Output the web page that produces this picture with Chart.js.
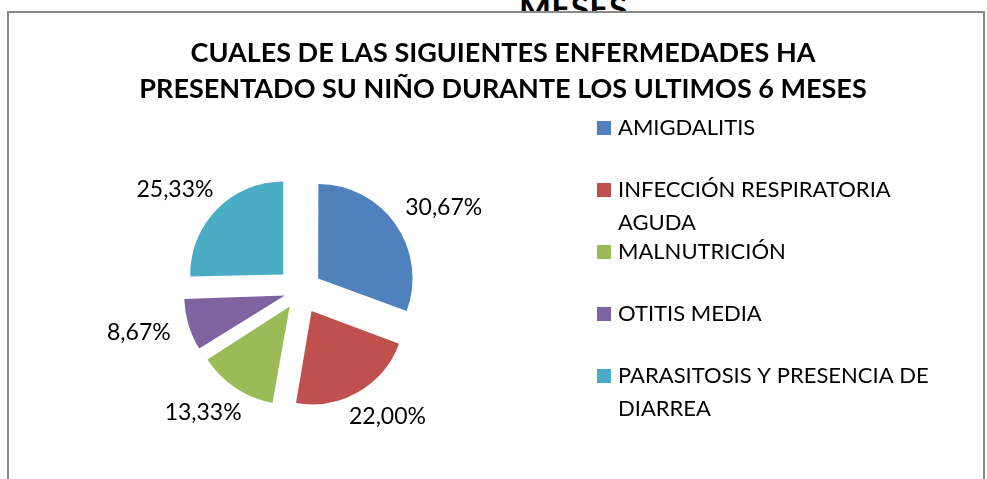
<!DOCTYPE html>
<html>
<head>
<meta charset="utf-8">
<title>Enfermedades en los ultimos 6 meses</title>
<script src="https://cdn.jsdelivr.net/npm/chart.js@4.4.1/dist/chart.umd.min.js"></script>
<style>
  body { margin: 0; width: 987px; height: 479px; overflow: hidden; background: #fff; font-family: Lato, sans-serif; }
  #cut-title { position: absolute; left: 519px; top: -9px; font: bold 34px/1 Lato, sans-serif; color: #000; z-index: 0; }
  #frame { position: absolute; left: 7px; top: 11px; right: 2px; bottom: -10px; border: 2px solid #8a8a8a; background: #fff; z-index: 1; }
  #chart { position: absolute; left: 0; top: 0; z-index: 2; }
</style>
</head>
<body>
<div id="cut-title">MESES</div>
<div id="frame"></div>
<canvas id="chart" width="987" height="479"></canvas>
<script>
// Chart data
const titleLines = ['CUALES DE LAS SIGUIENTES ENFERMEDADES HA', 'PRESENTADO SU NIÑO DURANTE LOS ULTIMOS 6 MESES'];
const categories = ['AMIGDALITIS', 'INFECCIÓN RESPIRATORIA AGUDA', 'MALNUTRICIÓN', 'OTITIS MEDIA', 'PARASITOSIS Y PRESENCIA DE DIARREA'];
const percentages = [30.67, 22.00, 13.33, 8.67, 25.33];
const sliceColors = ['#4F81BD', '#C0504D', '#9BBB59', '#8064A2', '#4BACC6'];

// How far every slice is pulled out (px), same for all like Excel's explode
const explode = 23.5;

// Chart.js moves an arc by offset/4 * (1 + fix), fix depending on the arc size,
// so work back the offset that gives the same shift for every slice
const total = percentages.reduce((sum, v) => sum + v, 0);
const sliceOffsets = percentages.map(v => {
  const circ = v / total * 2 * Math.PI;
  const fix = 1 - Math.sin(Math.min(Math.PI, circ));
  return explode * 4 / (1 + fix);
});

// Format like the original: 30,67%
function formatPercent(v) {
  return v.toFixed(2).replace('.', ',') + '%';
}

// Split a label into lines that fit maxWidth
function wrapText(ctx, text, maxWidth) {
  const words = text.split(' ');
  const lines = [];
  let line = '';
  words.forEach(word => {
    const test = line ? line + ' ' + word : word;
    if (line && ctx.measureText(test).width > maxWidth) {
      lines.push(line);
      line = word;
    } else {
      line = test;
    }
  });
  if (line) lines.push(line);
  return lines;
}

// Title drawn over the full canvas
const titlePlugin = {
  id: 'excelTitle',
  afterDraw(chart) {
    const ctx = chart.ctx;
    ctx.save();
    ctx.fillStyle = '#000';
    ctx.font = 'bold 27px Lato, sans-serif';
    ctx.textAlign = 'center';
    ctx.textBaseline = 'alphabetic';
    ctx.fillText(titleLines[0], 503, 62);
    ctx.fillText(titleLines[1], 503, 98);
    ctx.restore();
  }
};

// Percentage labels outside each exploded slice
const sliceLabels = {
  id: 'sliceLabels',
  afterDatasetsDraw(chart) {
    const ctx = chart.ctx;
    const meta = chart.getDatasetMeta(0);
    ctx.save();
    ctx.font = '23px Lato, sans-serif';
    ctx.fillStyle = '#000';
    ctx.textAlign = 'center';
    ctx.textBaseline = 'middle';
    meta.data.forEach((arc, i) => {
      const p = arc.getProps(['x', 'y', 'startAngle', 'endAngle', 'outerRadius']);
      const mid = (p.startAngle + p.endAngle) / 2;
      const dist = p.outerRadius + explode + 20;
      const text = formatPercent(percentages[i]);
      const w = ctx.measureText(text).width;
      const h = 18;
      const tx = p.x + Math.cos(mid) * dist + Math.cos(mid) * w / 2;
      const ty = p.y + Math.sin(mid) * dist + Math.sin(mid) * h / 2;
      ctx.fillText(text, tx, ty);
    });
    ctx.restore();
  }
};

// Legend on the right with wrapped text
const sideLegend = {
  id: 'sideLegend',
  afterDraw(chart) {
    const ctx = chart.ctx;
    const boxX = 597, textX = 618, firstBaseline = 135;
    const itemGap = 62, lineGap = 33, box = 14;
    ctx.save();
    ctx.font = '22px Lato, sans-serif';
    ctx.textAlign = 'left';
    ctx.textBaseline = 'alphabetic';
    categories.forEach((label, i) => {
      const baseline = firstBaseline + i * itemGap;
      ctx.fillStyle = sliceColors[i];
      ctx.fillRect(boxX, baseline - box, box, box);
      ctx.fillStyle = '#000';
      wrapText(ctx, label, 330).forEach((line, j) => {
        ctx.fillText(line, textX, baseline + j * lineGap);
      });
    });
    ctx.restore();
  }
};

const ctx = document.getElementById('chart').getContext('2d');
const diseaseChart = new Chart(ctx, {
  type: 'pie',
  data: {
    labels: categories,
    datasets: [{
      data: percentages,
      backgroundColor: sliceColors,
      borderWidth: 0,
      offset: sliceOffsets,
      hoverOffset: 0,
    }],
  },
  options: {
    responsive: false,
    animation: false,
    radius: 93,
    layout: {
      padding: { left: 195, right: 582, top: 186, bottom: 83 },
    },
    plugins: {
      legend: { display: false },
      title: { display: false },
      tooltip: { enabled: false },
    },
  },
  plugins: [sliceLabels, titlePlugin, sideLegend],
});
</script>
</body>
</html>
